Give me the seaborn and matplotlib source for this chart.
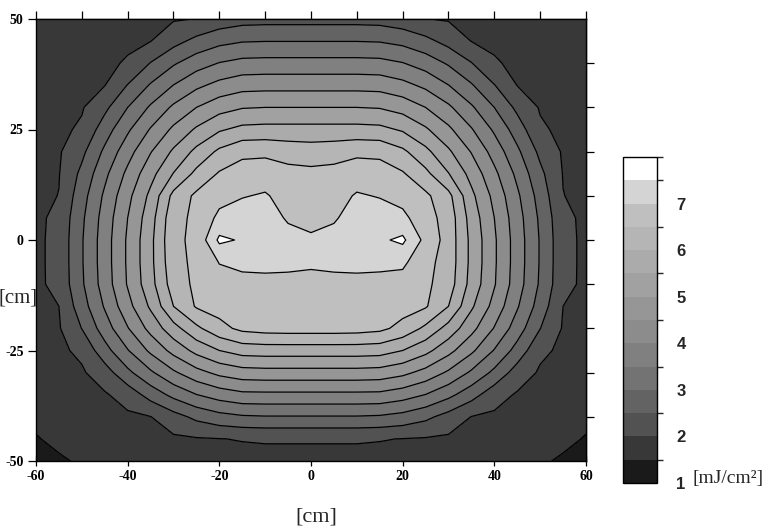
import numpy as np
import matplotlib
matplotlib.use("Agg")
import matplotlib.pyplot as plt
import seaborn as sns
from matplotlib.colors import ListedColormap, BoundaryNorm

# ---------------- data ----------------
x_cm = [-60, -55, -50, -45, -40, -35, -30, -25, -20, -15, -10, -5, 0,
        5, 10, 15, 20, 25, 30, 35, 40, 45, 50, 55, 60]
y_cm = [50, 45, 40, 35, 30, 25, 20, 15, 10, 5, 0, -5, -10,
        -15, -20, -25, -30, -35, -40, -45, -50]

# dose in mJ/cm^2, one row per y value (top to bottom), columns follow x_cm
dose_rows = [
    [1.51, 1.60, 1.69, 1.77, 1.84, 1.91, 1.96, 2.01, 2.20, 2.31, 2.33, 2.33, 2.33, 2.33, 2.33, 2.31, 2.20, 2.01, 1.96, 1.91, 1.84, 1.77, 1.69, 1.60, 1.51],
    [1.57, 1.67, 1.76, 1.85, 1.93, 1.99, 2.33, 2.64, 2.86, 2.97, 2.99, 2.99, 2.99, 2.99, 2.99, 2.97, 2.86, 2.64, 2.33, 1.99, 1.93, 1.85, 1.76, 1.67, 1.57],
    [1.64, 1.74, 1.83, 1.92, 2.04, 2.52, 2.94, 3.28, 3.52, 3.65, 3.67, 3.67, 3.67, 3.67, 3.67, 3.65, 3.52, 3.28, 2.94, 2.52, 2.04, 1.92, 1.83, 1.74, 1.64],
    [1.69, 1.80, 1.90, 1.99, 2.52, 3.05, 3.51, 3.89, 4.15, 4.31, 4.33, 4.33, 4.33, 4.33, 4.33, 4.31, 4.15, 3.89, 3.51, 3.05, 2.52, 1.99, 1.90, 1.80, 1.69],
    [1.74, 1.85, 1.96, 2.38, 3.00, 3.57, 4.09, 4.50, 4.81, 4.97, 5.00, 5.00, 5.00, 5.00, 5.00, 4.97, 4.81, 4.50, 4.09, 3.57, 3.00, 2.38, 1.96, 1.85, 1.74],
    [1.79, 1.90, 2.07, 2.76, 3.42, 4.04, 4.60, 5.07, 5.44, 5.63, 5.66, 5.66, 5.66, 5.66, 5.66, 5.63, 5.44, 5.07, 4.60, 4.04, 3.42, 2.76, 2.07, 1.90, 1.79],
    [1.83, 1.95, 2.38, 3.10, 3.80, 4.47, 5.08, 5.63, 6.10, 6.38, 6.40, 6.30, 6.25, 6.30, 6.40, 6.38, 6.10, 5.63, 5.08, 4.47, 3.80, 3.10, 2.38, 1.95, 1.83],
    [1.86, 1.98, 2.62, 3.38, 4.12, 4.83, 5.52, 6.13, 6.55, 6.72, 6.75, 6.65, 6.62, 6.65, 6.75, 6.72, 6.55, 6.13, 5.52, 4.83, 4.12, 3.38, 2.62, 1.98, 1.86],
    [1.88, 2.01, 2.80, 3.59, 4.36, 5.12, 6.15, 6.60, 6.83, 6.97, 7.05, 6.80, 6.73, 6.80, 7.05, 6.97, 6.83, 6.60, 6.15, 5.12, 4.36, 3.59, 2.80, 2.01, 1.88],
    [1.90, 2.12, 2.91, 3.71, 4.50, 5.29, 6.35, 6.60, 7.12, 7.25, 7.20, 6.95, 6.90, 6.95, 7.20, 7.25, 7.12, 6.70, 6.30, 5.29, 4.50, 3.71, 2.91, 2.12, 1.90],
    [1.90, 2.15, 2.96, 3.76, 4.57, 5.37, 6.40, 6.60, 7.60, 7.45, 7.30, 7.15, 7.05, 7.15, 7.30, 7.42, 7.60, 6.85, 6.30, 5.37, 4.57, 3.76, 2.96, 2.15, 1.90],
    [1.90, 2.15, 2.96, 3.76, 4.57, 5.37, 6.35, 6.60, 7.02, 7.12, 7.15, 7.10, 7.04, 7.10, 7.15, 7.12, 7.10, 6.65, 6.30, 5.37, 4.57, 3.76, 2.96, 2.15, 1.90],
    [1.90, 2.14, 2.93, 3.73, 4.54, 5.32, 6.25, 6.60, 6.80, 6.85, 6.85, 6.88, 6.92, 6.88, 6.85, 6.85, 6.80, 6.60, 6.25, 5.32, 4.54, 3.73, 2.93, 2.14, 1.90],
    [1.88, 2.00, 2.78, 3.55, 4.33, 5.08, 6.00, 6.55, 6.70, 6.75, 6.78, 6.80, 6.80, 6.80, 6.78, 6.75, 6.70, 6.55, 6.00, 5.08, 4.33, 3.55, 2.78, 2.00, 1.88],
    [1.84, 1.96, 2.51, 3.25, 3.97, 4.66, 5.31, 5.89, 6.34, 6.62, 6.70, 6.72, 6.72, 6.72, 6.70, 6.62, 6.34, 5.89, 5.31, 4.66, 3.97, 3.25, 2.51, 1.96, 1.84],
    [1.79, 1.91, 2.10, 2.81, 3.47, 4.10, 4.66, 5.15, 5.50, 5.71, 5.74, 5.74, 5.74, 5.74, 5.74, 5.71, 5.50, 5.15, 4.66, 4.10, 3.47, 2.81, 2.10, 1.91, 1.79],
    [1.73, 1.84, 1.94, 2.27, 2.88, 3.42, 3.92, 4.33, 4.63, 4.79, 4.82, 4.82, 4.82, 4.82, 4.82, 4.79, 4.63, 4.33, 3.92, 3.42, 2.88, 2.27, 1.94, 1.84, 1.73],
    [1.66, 1.76, 1.86, 1.95, 2.20, 2.70, 3.14, 3.49, 3.73, 3.88, 3.89, 3.89, 3.89, 3.89, 3.89, 3.88, 3.73, 3.49, 3.14, 2.70, 2.20, 1.95, 1.86, 1.76, 1.66],
    [1.57, 1.67, 1.76, 1.84, 1.92, 1.99, 2.31, 2.62, 2.83, 2.94, 2.97, 2.97, 2.97, 2.97, 2.97, 2.94, 2.83, 2.62, 2.31, 1.99, 1.92, 1.84, 1.76, 1.67, 1.57],
    [1.48, 1.57, 1.65, 1.73, 1.80, 1.87, 1.92, 1.96, 1.99, 2.02, 2.04, 2.04, 2.04, 2.04, 2.04, 2.02, 1.99, 1.96, 1.92, 1.87, 1.80, 1.73, 1.65, 1.57, 1.48],
    [1.38, 1.46, 1.54, 1.62, 1.68, 1.74, 1.79, 1.82, 1.85, 1.86, 1.86, 1.86, 1.86, 1.86, 1.86, 1.86, 1.85, 1.82, 1.79, 1.74, 1.68, 1.62, 1.54, 1.46, 1.38],
]

levels = [1.0, 1.5, 2.0, 2.5, 3.0, 3.5, 4.0, 4.5, 5.0, 5.5, 6.0, 6.5, 7.0, 7.5, 8.0]
band_grays = [0.10, 0.22, 0.32, 0.39, 0.45, 0.50, 0.55, 0.59, 0.63, 0.67, 0.71, 0.75, 0.83, 1.0]
cbar_ticks = [1, 2, 3, 4, 5, 6, 7]
x_ticks = [-60, -40, -20, 0, 20, 40, 60]
y_ticks = [-50, -25, 0, 25, 50]
top_ticks = [-60, -50, -40, -30, -20, -10, 0, 10, 20, 30, 40, 50, 60]
right_ticks = [-40, -30, -20, -10, 0, 10, 20, 30, 40]

# ---------------- style ----------------
sns.set_theme(style="ticks")
plt.rcParams["font.family"] = ["Liberation Serif", "DejaVu Serif"]
plt.rcParams["axes.linewidth"] = 1.0

fig = plt.figure(figsize=(7.84, 5.31), dpi=100)
ax = fig.add_axes([36 / 784, 1 - 461 / 531, 550 / 784, 442 / 531])

X, Y = np.meshgrid(x_cm, y_cm)
Z = np.array(dose_rows)
cmap = ListedColormap([str(g) for g in band_grays])
norm = BoundaryNorm(levels, cmap.N)

cf = ax.contourf(X, Y, Z, levels=levels, cmap=cmap, norm=norm)
ax.contour(X, Y, Z, levels=levels[1:-1], colors="black", linewidths=0.9)

ax.set_xlim(-60, 60)
ax.set_ylim(-50, 50)
ax.set_xticks(x_ticks)
ax.set_yticks(y_ticks)
ax.set_xticklabels([str(v) for v in x_ticks], fontweight="bold", fontsize=10)
ax.set_yticklabels([str(v) for v in y_ticks], fontweight="bold", fontsize=10)
ax.tick_params(axis="x", direction="inout", length=7, width=0.9, pad=3, colors="black")
ax.tick_params(axis="y", direction="out", length=6, width=0.9, pad=3, colors="black")
for s in ax.spines.values():
    s.set_color("black")

top = ax.secondary_xaxis("top")
top.set_xticks(top_ticks)
top.set_xticklabels([])
top.tick_params(direction="out", length=6, width=0.9, colors="black")

right = ax.secondary_yaxis("right")
right.set_yticks(right_ticks)
right.set_yticklabels([])
right.tick_params(direction="out", length=6, width=0.9, colors="black")

fig.text(316 / 784, 1 - 517 / 531, "[cm]", ha="center", va="center", fontsize=16)
fig.text(38 / 784, 1 - 298 / 531, "[cm]", ha="right", va="center", fontsize=15)

# ---------------- colour bar ----------------
cax = fig.add_axes([623 / 784, 1 - 483 / 531, 34 / 784, 326 / 531])
cb = fig.colorbar(cf, cax=cax, ticks=cbar_ticks)
cb.ax.tick_params(length=0, pad=14)
cb.ax.set_yticklabels([str(t) for t in cbar_ticks], fontweight="bold", fontsize=12,
                      family=["Liberation Sans", "DejaVu Sans"])
cb.outline.set_linewidth(1.0)
cb.outline.set_edgecolor("black")
fig.text(692 / 784, 1 - 478 / 531, "[mJ/cm²]", ha="left", va="center", fontsize=14)

fig.savefig("out.png", dpi=100)
